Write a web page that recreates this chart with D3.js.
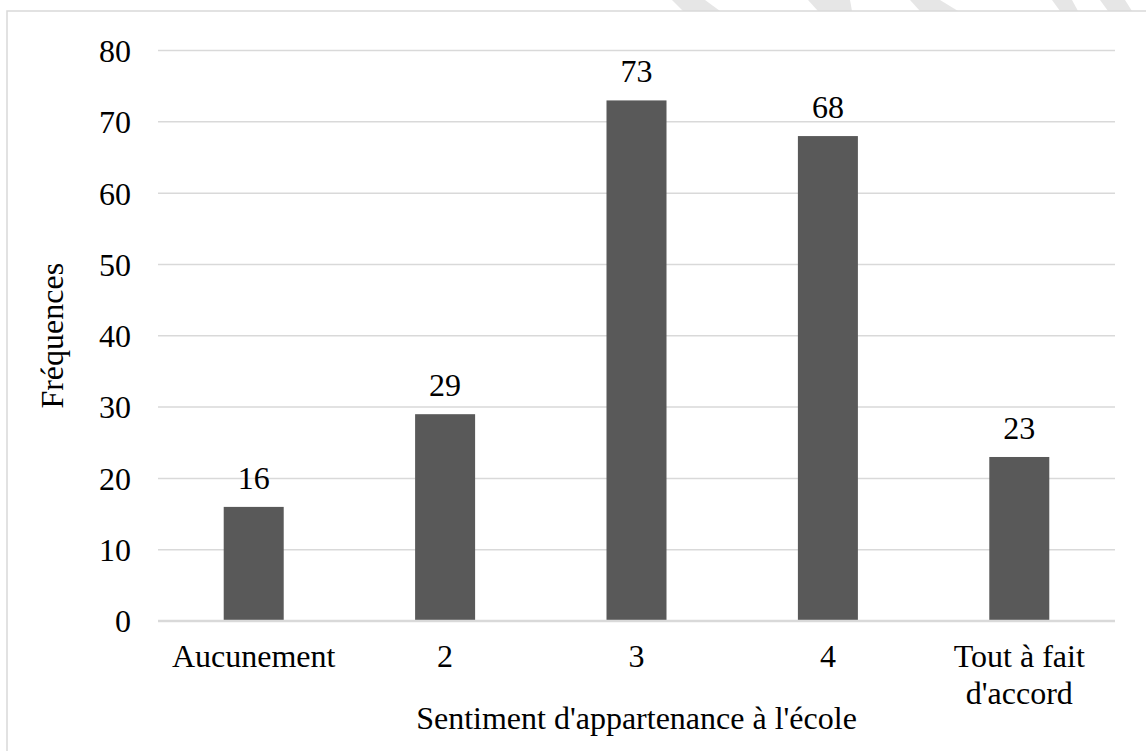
<!DOCTYPE html>
<html lang="fr">
<head>
  <meta charset="UTF-8">
  <title>Sentiment d'appartenance</title>
  <style>
    body { margin: 0; background: #fff; }
    svg text { font-family: "Liberation Serif", Tinos, "Times New Roman", "Nimbus Roman", "DejaVu Serif", serif; fill: #000; }
  </style>
</head>
<body>
  <script src="https://cdn.jsdelivr.net/npm/d3@7"></script>
  <script>
    const categories = ["Aucunement", "2", "3", "4", "Tout à fait d'accord"]
    const frequences = [16, 29, 73, 68, 23]
    const yTicks = [0, 10, 20, 30, 40, 50, 60, 70, 80]

    const width = 1146, height = 751
    const serif = '"Liberation Serif", Tinos, "Times New Roman", "Nimbus Roman", "DejaVu Serif", serif'
    const svg = d3.select("body").append("svg")
      .attr("width", width)
      .attr("height", height)
      .attr("font-family", serif)

    // bandes grises du filigrane, en haut à droite
    const stripes = [[672, 683, 705, 720], [808, 818, 850, 852], [910, 920, 940, 958], [1052, 1060, 1072, 1078], [1100, 1108, 1125, 1132]]
    svg.append("g").selectAll("path")
      .data(stripes)
      .enter().append("path")
      .attr("d", d => `M${d[0]},0 L${d[2]},0 L${d[3]},11 L${d[1]},11 Z`)
      .attr("fill", "#e6e6e6")

    // cadre du graphique
    svg.append("rect")
      .attr("x", 7).attr("y", 11)
      .attr("width", 1160).attr("height", 760)
      .attr("fill", "#fff")
      .attr("stroke", "#d9d9d9")
      .attr("stroke-width", 1.5)

    const x = d3.scaleBand()
      .domain(categories)
      .range([158, 1115])
      .paddingInner(0.6865)
      .paddingOuter(0.3433)

    const y = d3.scaleLinear()
      .domain([0, 80])
      .range([621, 50.5])

    // lignes de grille
    svg.append("g").selectAll("line")
      .data(yTicks.filter(d => d > 0))
      .enter().append("line")
      .attr("x1", 158).attr("x2", 1115)
      .attr("y1", d => y(d)).attr("y2", d => y(d))
      .attr("stroke", "#d9d9d9")
      .attr("stroke-width", 1.5)

    // axe y
    const yAxis = svg.append("g")
      .attr("transform", "translate(131,0)")
      .call(d3.axisLeft(y).tickValues(yTicks).tickSize(0).tickPadding(0))
      .attr("font-family", serif)
      .attr("font-size", 32)
    yAxis.select(".domain").remove()
    yAxis.selectAll("text")
      .attr("fill", "#000")
      .attr("dy", "0.34em")

    // barres
    svg.append("g").selectAll("rect")
      .data(frequences)
      .enter().append("rect")
      .attr("x", (d, i) => x(categories[i]))
      .attr("y", d => y(d))
      .attr("width", x.bandwidth())
      .attr("height", d => y(0) - y(d))
      .attr("fill", "#595959")

    // étiquettes de valeurs
    svg.append("g").selectAll("text")
      .data(frequences)
      .enter().append("text")
      .attr("x", (d, i) => x(categories[i]) + x.bandwidth() / 2)
      .attr("y", d => y(d) - 18)
      .attr("text-anchor", "middle")
      .attr("font-size", 32)
      .text(d => d)

    // axe x (ligne de base)
    svg.append("line")
      .attr("x1", 158).attr("x2", 1115)
      .attr("y1", y(0)).attr("y2", y(0))
      .attr("stroke", "#d9d9d9")
      .attr("stroke-width", 2.5)

    // libellés des catégories
    const wrapLabels = { "Tout à fait d'accord": ["Tout à fait", "d'accord"] }
    const labels = svg.append("g").selectAll("text")
      .data(categories)
      .enter().append("text")
      .attr("x", d => x(d) + x.bandwidth() / 2)
      .attr("y", 667)
      .attr("text-anchor", "middle")
      .attr("font-size", 32)
    labels.each(function(d) {
      const lines = wrapLabels[d] || [d]
      d3.select(this).selectAll("tspan")
        .data(lines)
        .enter().append("tspan")
        .attr("x", x(d) + x.bandwidth() / 2)
        .attr("dy", (l, i) => i === 0 ? 0 : 37)
        .text(l => l)
    })

    // titres des axes
    svg.append("text")
      .attr("x", (158 + 1115) / 2)
      .attr("y", 729)
      .attr("text-anchor", "middle")
      .attr("font-size", 32)
      .text("Sentiment d'appartenance à l'école")

    svg.append("text")
      .attr("transform", "translate(63," + y(40) + ") rotate(-90)")
      .attr("text-anchor", "middle")
      .attr("font-size", 32)
      .text("Fréquences")
  </script>
</body>
</html>
